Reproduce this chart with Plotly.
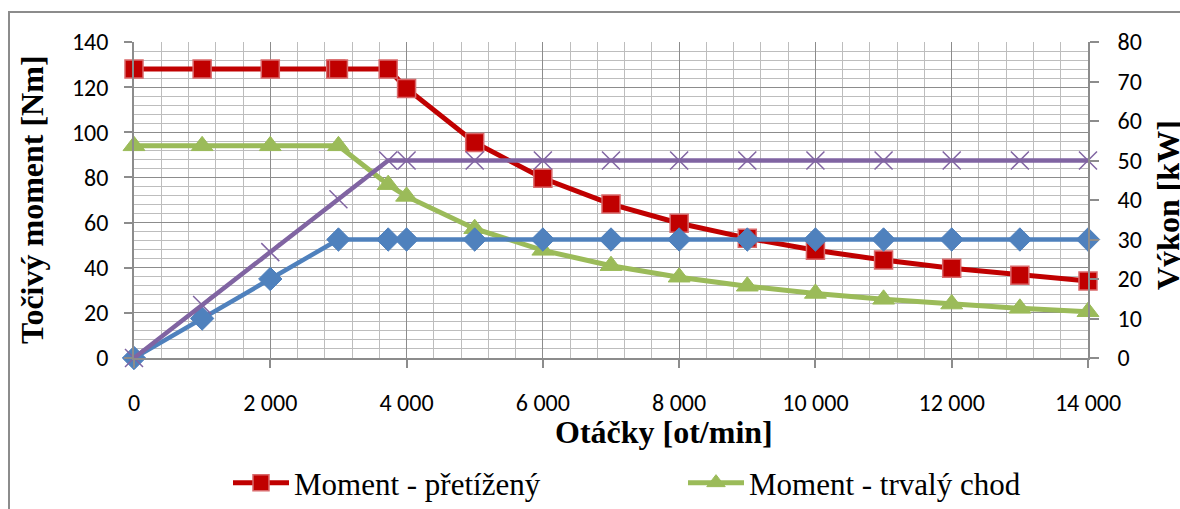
import plotly.graph_objects as go

# ---- data ----
rpm_over = [0, 1000, 2000, 2960, 3000, 3730, 4000, 5000, 6000, 7000, 8000, 9000, 10000, 11000, 12000, 13000, 14000]
moment_over = [128, 128, 128, 128, 128, 128, 119.4, 95.5, 79.6, 68.2, 59.7, 53.1, 47.7, 43.4, 39.8, 36.7, 34.1]

rpm = [0, 1000, 2000, 3000, 3730, 4000, 5000, 6000, 7000, 8000, 9000, 10000, 11000, 12000, 13000, 14000]
moment_cont = [94, 94, 94, 94, 76.8, 71.6, 57.3, 47.7, 40.9, 35.8, 31.8, 28.6, 26.0, 23.9, 22.0, 20.5]
power_cont = [0, 10, 20, 30, 30, 30, 30, 30, 30, 30, 30, 30, 30, 30, 30, 30]
power_over = [0, 13.4, 26.8, 40.2, 50, 50, 50, 50, 50, 50, 50, 50, 50, 50, 50, 50]

x_tickvals = [0, 2000, 4000, 6000, 8000, 10000, 12000, 14000]
x_ticktext = ["0", "2 000", "4 000", "6 000", "8 000", "10 000", "12 000", "14 000"]

names = ["Moment - přetížený", "Moment - trvalý chod", "Výkon - trvalý chod", "Výkon - přetížený"]

RED = "#C00000"
GREEN = "#9BBB59"
BLUE = "#4F81BD"
PURPLE = "#8064A2"

TICKFONT = dict(family="Carlito, Calibri, Roboto, sans-serif", size=24, color="#000000")
SERIF_B = dict(family="Liberation Serif, Times New Roman, serif", size=32, color="#000000")

fig = go.Figure()
fig.add_trace(go.Scatter(
    x=rpm_over, y=moment_over, name=names[0], mode="lines+markers",
    line=dict(color=RED, width=5),
    marker=dict(symbol="square", size=18, color=RED, line=dict(color="#D9696B", width=1.5)),
    cliponaxis=False,
))
fig.add_trace(go.Scatter(
    x=rpm, y=moment_cont, name=names[1], mode="lines+markers",
    line=dict(color=GREEN, width=5),
    marker=dict(symbol="triangle-up", size=19, color=GREEN, line=dict(color=GREEN, width=1)),
    cliponaxis=False,
))
fig.add_trace(go.Scatter(
    x=rpm, y=power_cont, name=names[2], mode="lines+markers", yaxis="y2",
    line=dict(color=BLUE, width=4.5),
    marker=dict(symbol="diamond", size=18, color=BLUE, line=dict(color=BLUE, width=1)),
    cliponaxis=False, showlegend=False,
))
fig.add_trace(go.Scatter(
    x=rpm, y=power_over, name=names[3], mode="lines+markers", yaxis="y2",
    line=dict(color=PURPLE, width=4.5),
    marker=dict(symbol="x-thin-open", size=18, color=PURPLE, line=dict(color=PURPLE, width=1.5)),
    cliponaxis=False, showlegend=False,
))

L, R, T, B = 134, 92, 42, 151
W, H = 1180, 509
pw = W - L - R
ph = H - T - B

def px(xp):
    return (xp - L) / pw

def py(yp):
    return (H - B - yp) / ph

fig.update_layout(
    width=W, height=H,
    margin=dict(l=L, r=R, t=T, b=B, autoexpand=False),
    paper_bgcolor="white", plot_bgcolor="white",
    showlegend=True,
    legend=dict(
        orientation="h", x=px(228), y=py(483), xanchor="left", yanchor="middle",
        font=dict(family="Liberation Serif, Times New Roman, serif", size=31, color="#000000"),
        itemwidth=56, entrywidth=384, entrywidthmode="pixels",
        bgcolor="rgba(0,0,0,0)", borderwidth=0,
    ),
    xaxis=dict(
        range=[0, 14000], tickvals=x_tickvals, ticktext=x_ticktext,
        showgrid=True, gridcolor="#8C8C8C", gridwidth=1,
        minor=dict(dtick=400, showgrid=True, gridcolor="#BDBDBD", gridwidth=1),
        ticks="outside", ticklen=8, tickcolor="#8C8C8C", tickwidth=1.5,
        showline=True, linecolor="#8C8C8C", linewidth=1.5,
        tickfont=TICKFONT, ticklabelstandoff=14, zeroline=False,
    ),
    yaxis=dict(
        range=[0, 140], dtick=20,
        showgrid=True, gridcolor="#8C8C8C", gridwidth=1,
        minor=dict(dtick=4, showgrid=True, gridcolor="#BDBDBD", gridwidth=1),
        ticks="outside", ticklen=8, tickcolor="#8C8C8C", tickwidth=1.5,
        showline=True, linecolor="#8C8C8C", linewidth=1.5,
        tickfont=TICKFONT, ticklabelstandoff=11, zeroline=False,
    ),
    yaxis2=dict(
        range=[0, 80], dtick=10, overlaying="y", side="right",
        showgrid=False, zeroline=False,
        ticks="outside", ticklen=9, tickcolor="#8C8C8C", tickwidth=1.5,
        showline=True, linecolor="#8C8C8C", linewidth=1.5,
        tickfont=TICKFONT, ticklabelstandoff=14,
    ),
    annotations=[
        dict(text="<b>Točivý moment [Nm]</b>", textangle=-90, xref="paper", yref="paper",
             x=px(32), y=py(200), xanchor="center", yanchor="middle", showarrow=False, font=SERIF_B),
        dict(text="<b>Výkon [kW]</b>", textangle=-90, xref="paper", yref="paper",
             x=px(1168), y=py(205), xanchor="center", yanchor="middle", showarrow=False, font=SERIF_B),
        dict(text="<b>Otáčky [ot/min]</b>", xref="paper", yref="paper",
             x=px(664), y=py(432), xanchor="center", yanchor="middle", showarrow=False, font=SERIF_B),
    ],
    shapes=[
        dict(type="rect", xref="paper", yref="paper",
             x0=px(9), y0=py(560), x1=px(1230), y1=py(12),
             line=dict(color="#8C8C8C", width=2), fillcolor="rgba(0,0,0,0)", layer="below"),
    ],
)

fig.write_html("out.html")
